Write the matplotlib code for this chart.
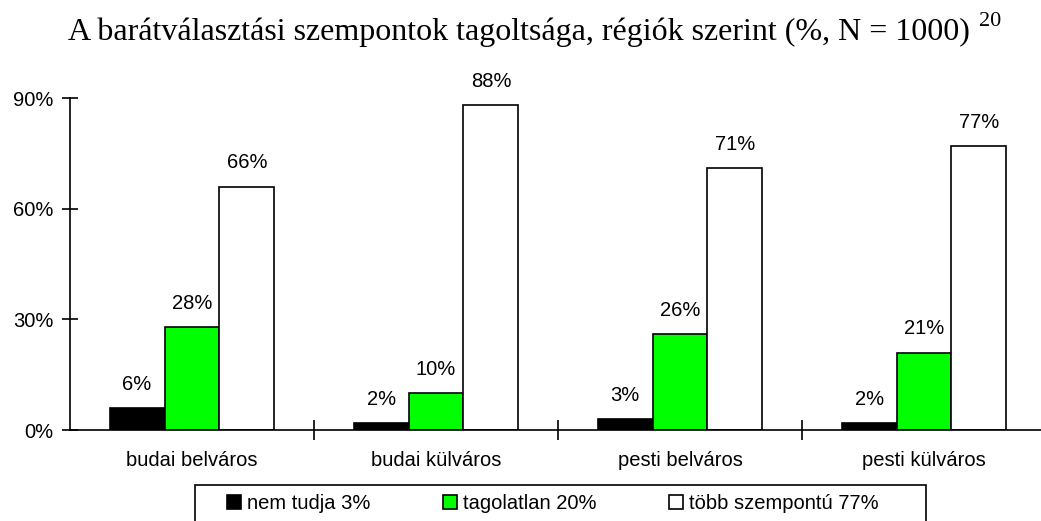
import numpy as np
import matplotlib.pyplot as plt
from matplotlib.patches import Rectangle

# data
regions = ['budai belváros', 'budai külváros', 'pesti belváros', 'pesti külváros']
nem_tudja = [6, 2, 3, 2]
tagolatlan = [28, 10, 26, 21]
tobb_szempontu = [66, 88, 71, 77]
legend_labels = ['nem tudja 3%', 'tagolatlan 20%', 'több szempontú 77%']
yticks = [0, 30, 60, 90]

plt.rcParams['font.family'] = ['Liberation Sans', 'DejaVu Sans']
fs = 14.5

W, H = 1041, 521
fig = plt.figure(figsize=(W / 100, H / 100), dpi=100)
# axes runs a little past the right edge, like the original export
ax = fig.add_axes([70 / W, (H - 430) / H, 976 / W, 332 / H])

x = np.arange(len(regions))
bw = 0.225
series = [nem_tudja, tagolatlan, tobb_szempontu]
colors = ['black', '#00ff00', 'white']
for i, (vals, col, lab) in enumerate(zip(series, colors, legend_labels)):
    bars = ax.bar(x + (i - 1) * bw, vals, width=bw, color=col, edgecolor='black',
                  linewidth=1.2, label=lab)
    for b, v in zip(bars, vals):
        ax.annotate(f'{v}%', (b.get_x() + b.get_width() / 2, v),
                    xytext=(0, 13), textcoords='offset points',
                    ha='center', va='baseline', fontsize=fs)

ax.set_xlim(-0.5, 3.5)
ax.set_ylim(0, 90)
ax.set_yticks(yticks)
ax.set_yticklabels([f'{t}%' for t in yticks], fontsize=fs)
ax.tick_params(axis='y', direction='inout', length=12, width=1.2, pad=6)

ax.set_xticks(x[:-1] + 0.5)
ax.set_xticklabels([])
ax.set_xticks(x, minor=True)
ax.set_xticklabels(regions, minor=True, fontsize=fs)
ax.tick_params(axis='x', which='major', direction='inout', length=14, width=1.2)
ax.tick_params(axis='x', which='minor', length=0, pad=15)

for s in ['top', 'right']:
    ax.spines[s].set_visible(False)
for s in ['left', 'bottom']:
    ax.spines[s].set_linewidth(1.2)

title = fig.text(68 / W, 1 - 40 / H,
                 'A barátválasztási szempontok tagoltsága, régiók szerint (%, N = 1000)',
                 family='Liberation Serif', fontsize=23, ha='left', va='baseline')
fig.canvas.draw()
tb = title.get_window_extent()
fig.text((tb.x1 + 9) / W, 1 - 26 / H, '20', family='Liberation Serif', fontsize=16,
         ha='left', va='baseline')

# legend frame runs off the bottom edge in the original
fig.patches.append(Rectangle((195 / W, -10 / H), (926 - 195) / W, (H - 485 + 10) / H,
                             transform=fig.transFigure, fill=False,
                             edgecolor='black', linewidth=1.2))
fig.legend(loc='upper left', bbox_to_anchor=(227 / W, 1 - 494 / H), ncol=3,
           frameon=False, fontsize=fs,
           handlelength=0.7, handleheight=0.7, handletextpad=0.3,
           columnspacing=3.6, borderpad=0, borderaxespad=0)

fig.savefig('out.png', dpi=100)
